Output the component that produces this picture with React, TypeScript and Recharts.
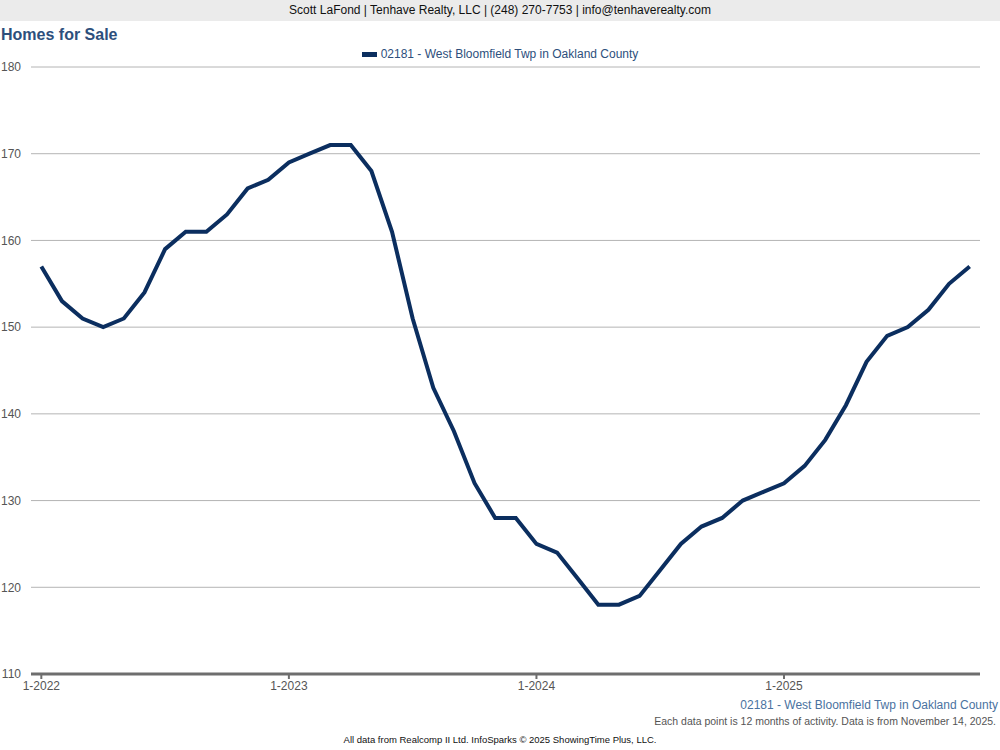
import { LineChart, Line, XAxis, YAxis, CartesianGrid } from "recharts";

// Jan 2022 .. Oct 2025, one point per month (rolling 12 months)
const months = [
  "1-2022", "2-2022", "3-2022", "4-2022", "5-2022", "6-2022", "7-2022", "8-2022", "9-2022", "10-2022", "11-2022", "12-2022",
  "1-2023", "2-2023", "3-2023", "4-2023", "5-2023", "6-2023", "7-2023", "8-2023", "9-2023", "10-2023", "11-2023", "12-2023",
  "1-2024", "2-2024", "3-2024", "4-2024", "5-2024", "6-2024", "7-2024", "8-2024", "9-2024", "10-2024", "11-2024", "12-2024",
  "1-2025", "2-2025", "3-2025", "4-2025", "5-2025", "6-2025", "7-2025", "8-2025", "9-2025", "10-2025",
];

const homesForSale = [
  157, 153, 151, 150, 151, 154, 159, 161, 161, 163, 166, 167,
  169, 170, 171, 171, 168, 161, 151, 143, 138, 132, 128, 128,
  125, 124, 121, 118, 118, 119, 122, 125, 127, 128, 130, 131,
  132, 134, 137, 141, 146, 149, 150, 152, 155, 157,
];

const xTicks = [0, 12, 24, 36];
const yTicks = [110, 120, 130, 140, 150, 160, 170, 180];

const SERIES = "02181 - West Bloomfield Twp in Oakland County";
const FONT = '"Liberation Sans", Arial, sans-serif';

const data = months.map((m, i) => ({ idx: i, month: m, value: homesForSale[i] }));

export default function App() {
  return (
    <div style={{ position: "absolute", left: 0, top: 0, width: 1000, height: 750, background: "#fff", fontFamily: FONT, overflow: "hidden" }}>
      {/* header bar */}
      <div style={{ position: "absolute", left: 0, top: 0, width: 1000, height: 21, background: "#ebebeb", textAlign: "center", fontSize: 12, lineHeight: "21px", color: "#111" }}>
        Scott LaFond | Tenhave Realty, LLC | (248) 270-7753 | info@tenhaverealty.com
      </div>
      <div style={{ position: "absolute", left: 1, top: 26, fontSize: 16, fontWeight: "bold", color: "#2d4f7c" }}>
        Homes for Sale
      </div>

      {/* legend */}
      <div style={{ position: "absolute", left: 0, top: 47, width: 1000, display: "flex", justifyContent: "center", alignItems: "center", fontSize: 12, color: "#2d4f7c" }}>
        <span style={{ display: "inline-block", width: 15, height: 5, background: "#0b2e5f", marginRight: 4 }} />
        {SERIES}
      </div>

      <div style={{ position: "absolute", left: 0, top: 0 }}>
        <LineChart width={1000} height={750} data={data} margin={{ top: 67, right: 20, bottom: 46, left: 0 }}>
          <CartesianGrid vertical={false} stroke="#b4b4b4" strokeWidth={1} />
          <XAxis
            dataKey="idx"
            type="number"
            domain={[-0.5, 45.5]}
            ticks={xTicks}
            tickFormatter={(v: number) => months[v]}
            height={30}
            axisLine={{ stroke: "#6e6e6e", strokeWidth: 3 }}
            tickLine={{ stroke: "#6e6e6e", strokeWidth: 2 }}
            tickSize={5}
            tick={{ fill: "#555", fontSize: 12, fontFamily: FONT }}
          />
          <YAxis
            domain={[110, 180]}
            ticks={yTicks}
            width={31}
            axisLine={false}
            tickLine={false}
            tickSize={8}
            tick={{ fill: "#555", fontSize: 12, fontFamily: FONT }}
          />
          <Line
            type="linear"
            dataKey="value"
            stroke="#0b2e5f"
            strokeWidth={4}
            dot={false}
            isAnimationActive={false}
          />
        </LineChart>
      </div>

      <div style={{ position: "absolute", right: 2, top: 698, fontSize: 12, color: "#4a72a0" }}>{SERIES}</div>
      <div style={{ position: "absolute", right: 4, top: 715, fontSize: 10.5, color: "#555" }}>
        Each data point is 12 months of activity. Data is from November 14, 2025.
      </div>
      <div style={{ position: "absolute", left: 0, width: 1000, top: 734, textAlign: "center", fontSize: 9.5, color: "#111" }}>
        All data from Realcomp II Ltd. InfoSparks © 2025 ShowingTime Plus, LLC.
      </div>
    </div>
  );
}
